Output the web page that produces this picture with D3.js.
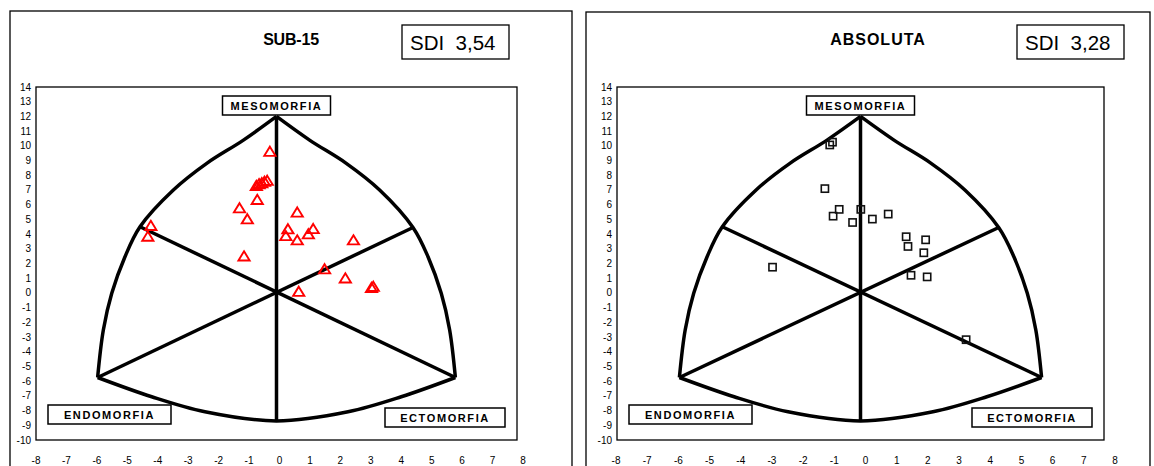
<!DOCTYPE html>
<meta charset="utf-8">
<style>
body { margin: 0; background: #fff; }
text { font-family: "Liberation Sans", Arial, sans-serif; fill: #000; }
.frame { fill: none; stroke: #000; stroke-width: 3.5px; stroke-linejoin: round; }
.box { fill: none; stroke: #000; stroke-width: 1.3px; }
.tick { font-size: 10px; }
.lab { font-size: 11px; font-weight: bold; letter-spacing: 1.6px; }
</style>
<body>
<script src="https://cdn.jsdelivr.net/npm/d3@7/dist/d3.min.js"></script>
<script>

var W = 1154, H = 466;

// somatochart frame, in chart units
var leftArc = [[0, 12], [-1.1, 10.39], [-2.32, 8.81], [-3.43, 7.0], [-4.54, 4.5], [-5.04, 2.46], [-5.48, -0.03], [-5.76, -2.52], [-5.95, -5.75]],
    rightArc = [[0, 12], [1.1, 10.39], [2.32, 8.81], [3.43, 7.0], [4.54, 4.45], [5.04, 2.46], [5.48, -0.03], [5.76, -2.52], [5.95, -5.75]],
    bottomArc = [[-5.95, -5.75], [-4.15, -7.06], [-2.38, -8.08], [0, -8.7], [2.38, -8.08], [4.15, -7.06], [5.95, -5.75]],
    spokes = [[[0, 12], [0, -8.7]], [[-5.95, -5.75], [4.54, 4.45]], [[5.95, -5.75], [-4.54, 4.5]]];

var xTicks = [-8, -7, -6, -5, -4, -3, -2, -1, 0, 1, 2, 3, 4, 5, 6, 7, 8],
    yTicks = [14, 13, 12, 11, 10, 9, 8, 7, 6, 5, 4, 3, 2, 1, 0, -1, -2, -3, -4, -5, -6, -7, -8, -9, -10];

// SUB-15 (x, y)
var sub15X = [-0.22, -0.67, -0.58, -0.49, -0.4, -0.31, -0.64, -1.23, -0.97, -4.18, -4.28, -1.08, 0.69, 0.38, 0.31, 0.69, 1.22, 1.06, 2.56, 1.6, 2.29, 0.74, 3.16, 3.22],
    sub15Y = [9.63, 7.31, 7.43, 7.5, 7.59, 7.66, 6.36, 5.79, 5.04, 4.59, 3.86, 2.52, 5.5, 4.36, 3.9, 3.61, 4.38, 4.02, 3.61, 1.64, 1.02, 0.11, 0.38, 0.45];

// ABSOLUTA (x, y)
var absX = [-0.92, -1.01, -1.17, -0.7, -0.9, -0.26, 0.01, 0.39, 0.91, 1.5, 1.56, 2.14, 2.08, 1.66, 2.19, -2.89, 3.47],
    absY = [10.25, 10.06, 7.09, 5.68, 5.22, 4.79, 5.68, 5.02, 5.36, 3.82, 3.16, 3.61, 2.73, 1.2, 1.09, 1.75, -3.18];

var panels = [
  {title: "SUB-15", sdi: "3,54", xs: sub15X, ys: sub15Y, marker: "tri", ls: "-0.2px",
   outer: [10, 11, 562, 470], titleX: 291, sdiX: 402, xr: [36, 517], lr: [36, 523]},
  {title: "ABSOLUTA", sdi: "3,28", xs: absX, ys: absY, marker: "sq", ls: "1px",
   outer: [586, 12, 564, 470], titleX: 878, sdiX: 1017, xr: [617, 1104], lr: [616, 1115]}
];

var svg = d3.select("body").append("svg")
    .attr("width", W)
    .attr("height", H);

panels.forEach(drawPanel);

function drawPanel(p) {
  var g = svg.append("g");
  var x = d3.scaleLinear().domain([-8, 8]).range(p.xr),
      xl = d3.scaleLinear().domain([-8, 8]).range(p.lr),
      y = d3.scaleLinear().domain([-10, 14]).range([440, 87]);

  g.append("rect").attr("class", "box")
      .attr("x", p.outer[0]).attr("y", p.outer[1])
      .attr("width", p.outer[2]).attr("height", p.outer[3]);

  g.append("text")
      .attr("x", p.titleX).attr("y", 45)
      .attr("text-anchor", "middle")
      .style("font-size", "16px").style("font-weight", "bold")
      .style("letter-spacing", p.ls)
      .text(p.title);

  g.append("rect").attr("class", "box")
      .attr("x", p.sdiX).attr("y", 25).attr("width", 107).attr("height", 34);
  g.append("text")
      .attr("x", p.sdiX + 8).attr("y", 50)
      .style("font-size", "20.5px")
      .attr("xml:space", "preserve")
      .text("SDI  " + p.sdi);

  // plot area
  g.append("rect").attr("class", "box")
      .attr("x", p.xr[0]).attr("y", y(14))
      .attr("width", p.xr[1] - p.xr[0]).attr("height", y(-10) - y(14));

  g.selectAll(".yt").data(yTicks).enter().append("text")
      .attr("class", "tick")
      .attr("x", p.xr[0] - 5)
      .attr("y", function(d) { return y(d) + 3.5; })
      .attr("text-anchor", "end")
      .text(function(d) { return d; });

  g.selectAll(".xt").data(xTicks).enter().append("text")
      .attr("class", "tick")
      .attr("x", function(d) { return xl(d); })
      .attr("y", 464)
      .attr("text-anchor", "middle")
      .text(function(d) { return d; });

  var line = d3.line().x(function(d) { return x(d[0]); }).y(function(d) { return y(d[1]); });
  var curve = d3.line().x(function(d) { return x(d[0]); }).y(function(d) { return y(d[1]); })
      .curve(d3.curveCatmullRom.alpha(0.5));

  [leftArc, rightArc, bottomArc].forEach(function(a) {
    g.append("path").attr("class", "frame").attr("d", curve(a));
  });
  spokes.forEach(function(s) {
    g.append("path").attr("class", "frame").attr("d", line(s));
  });

  // corner labels
  var labels = [
    {t: "MESOMORFIA", x0: x(0) - 54, y0: 96, w: 108},
    {t: "ENDOMORFIA", x0: p.xr[0] + 12, y0: 405, w: 123},
    {t: "ECTOMORFIA", x0: p.xr[1] - 132, y0: 408, w: 120}
  ];
  labels.forEach(function(l) {
    g.append("rect").attr("x", l.x0).attr("y", l.y0).attr("width", l.w).attr("height", 19)
        .attr("fill", "#fff").attr("stroke", "#000").attr("stroke-width", 1.5);
    g.append("text").attr("class", "lab")
        .attr("x", l.x0 + l.w / 2).attr("y", l.y0 + 14)
        .attr("text-anchor", "middle")
        .text(l.t);
  });

  var pts = d3.range(p.xs.length).map(function(i) { return [p.xs[i], p.ys[i]]; });
  if (p.marker === "tri") {
    g.selectAll(".pt").data(pts).enter().append("path")
        .attr("transform", function(d) { return "translate(" + x(d[0]) + "," + y(d[1]) + ")"; })
        .attr("d", "M0,-4.6L5.6,4.6L-5.6,4.6Z")
        .attr("fill", "none").attr("stroke", "#f00").attr("stroke-width", 1.9);
  } else {
    g.selectAll(".pt").data(pts).enter().append("rect")
        .attr("x", function(d) { return x(d[0]) - 3.6; })
        .attr("y", function(d) { return y(d[1]) - 3.6; })
        .attr("width", 7.2).attr("height", 7.2)
        .attr("fill", "none").attr("stroke", "#111").attr("stroke-width", 1.6);
  }
}

</script>
</body>
